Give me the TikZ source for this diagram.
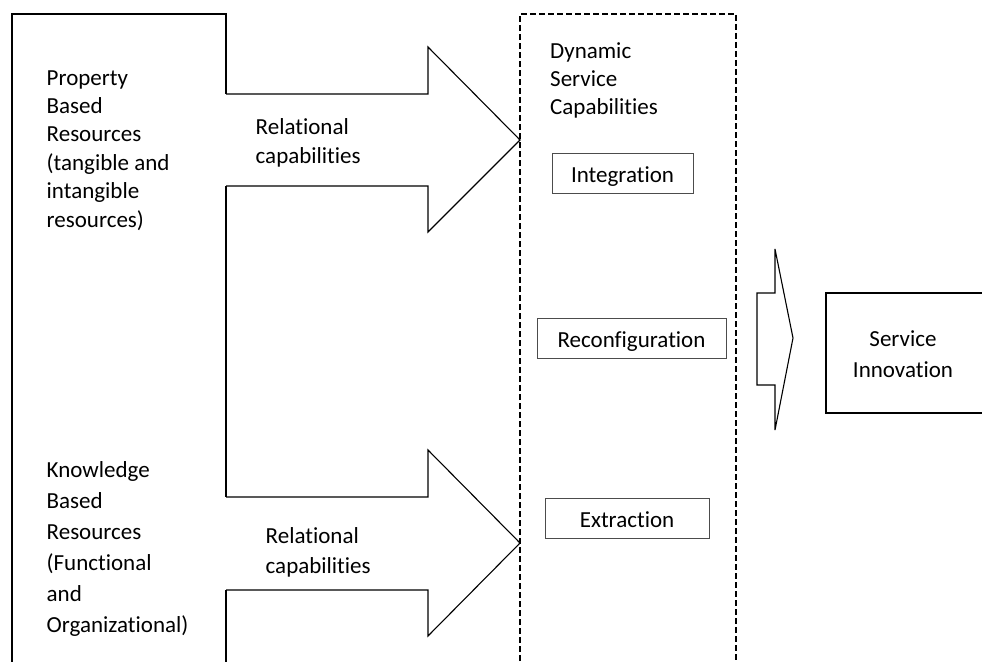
\documentclass[tikz,border=0pt]{standalone}
\usepackage{fontspec}
\setmainfont[Ligatures={NoCommon}]{Carlito}
\begin{document}
\begin{tikzpicture}[x=1pt,y=-1pt,
  % multi-line texts are placed by the baseline of their last line
  txt/.style={inner sep=0pt, anchor=base west, align=left},
  capbox/.style={draw=black!70, line width=1pt, minimum height=40pt, inner sep=0pt,
                 text height=18pt, text depth=0pt, font=\fontsize{23}{28}\selectfont},
  heavy/.style={line width=2pt},
  blockarrow/.style={line width=1.1pt, line join=miter},
  dashbox/.style={line width=1.5pt, dash pattern=on 6pt off 3pt}]
\useasboundingbox (0,0) rectangle (982,661);
\clip (0,0) rectangle (982,661);

% resource frame (open at the bottom, broken where the arrows leave it)
\draw[heavy] (226,94) -- (226,14) -- (12,14) -- (12,670);
\draw[heavy] (226,186) -- (226,497);
\draw[heavy] (226,590) -- (226,670);

% relational capability block arrows
\draw[blockarrow] (226,94) -- (428,94) -- (428,47) -- (520,140) -- (428,232) -- (428,186) -- (226,186);
\draw[blockarrow] (226,497) -- (428,497) -- (428,450) -- (520,543) -- (428,636) -- (428,590) -- (226,590);

% dynamic service capabilities frame
\draw[dashbox] (520,670) -- (520,14) -- (736,14) -- (736,670);

% arrow towards service innovation
\draw[blockarrow] (757,293) -- (775,293) -- (775,249) -- (793,338) -- (775,430) -- (775,385) -- (757,385) -- cycle;

% service innovation frame (open to the right)
\draw[heavy] (990,293) -- (826,293) -- (826,413) -- (990,413);

% texts
\node[txt, font=\fontsize{23}{28.4}\selectfont] (prop) at (46.5,227)
  {Property\\Based\\Resources\\(tangible and\\intangible\\resources)};
\node[txt, font=\fontsize{23}{31}\selectfont] (know) at (46.5,632)
  {Knowledge\\Based\\Resources\\(Functional\\and\\Organizational)};
\node[txt, font=\fontsize{23}{29}\selectfont] (rel1) at (255.5,163) {Relational\\capabilities};
\node[txt, font=\fontsize{23}{30}\selectfont] (rel2) at (265.5,573) {Relational\\capabilities};
\node[txt, font=\fontsize{23}{28}\selectfont] (dsc) at (550,114) {Dynamic\\Service\\Capabilities};
\node[txt, anchor=base, align=center, font=\fontsize{23}{31}\selectfont] (si) at (903,377)
  {Service\\Innovation};

% capability boxes
\node[capbox, minimum width=141pt] (integ) at (622.5,173) {Integration};
\node[capbox, minimum width=189pt] (reconf) at (631.5,338) {Reconfiguration};
\node[capbox, minimum width=164pt] (extr) at (627,518) {Extraction};
\end{tikzpicture}
\end{document}
